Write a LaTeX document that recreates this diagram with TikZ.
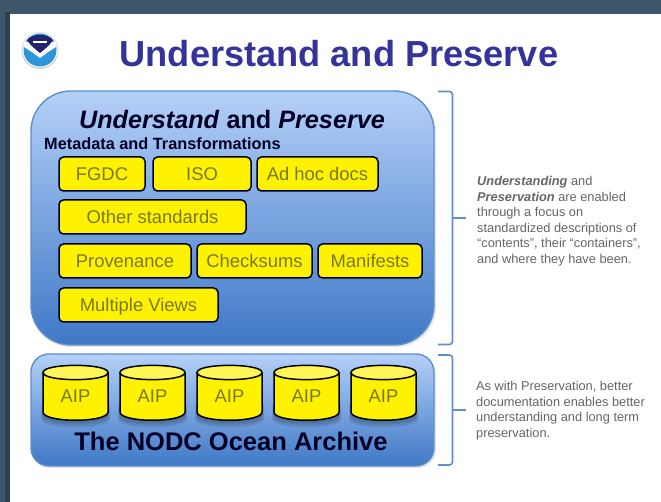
\documentclass[tikz,border=0pt]{standalone}
\usepackage{fontspec}
\setmainfont{Liberation Sans}
\usetikzlibrary{shapes.geometric,shadows,calc}
\definecolor{frameblue}{HTML}{3D5669}
\definecolor{titleblue}{HTML}{33339A}
\definecolor{edgeblue}{HTML}{5F90CC}
\definecolor{bodytxt}{HTML}{666666}
\definecolor{boxtxt}{HTML}{78781E}
\definecolor{panellight}{HTML}{B4D0F8}
\definecolor{panelmid}{HTML}{78A4E4}
\definecolor{paneldark}{HTML}{3F78C6}
\tikzset{
  x=1pt,y=-1pt,
  panel/.style={draw=edgeblue,line width=1.4pt,top color=panellight,middle color=panelmid,bottom color=paneldark,inner sep=0,outer sep=0},
  yellowbox/.style={draw=black!85!blue,line width=1.5pt,fill=yellow,rounded corners=4.5pt,text=boxtxt,font=\fontsize{18.4}{20}\selectfont,text height=13pt,text depth=0pt,minimum height=34pt,inner sep=0,outer sep=0,anchor=north west,drop shadow={shadow xshift=0pt,shadow yshift=-1.5pt,opacity=.3}},
  bracketline/.style={draw=edgeblue,line width=1.6pt,rounded corners=3pt},
  sidetext/.style={text=bodytxt,font=\fontsize{12.8}{15.6}\selectfont,align=left,anchor=north west,inner sep=0},
  cyl/.style={draw=black,line width=1.5pt,fill=yellow},
  cyllabel/.style={text=boxtxt,font=\fontsize{18.4}{20}\selectfont,inner sep=0},
}
\newcommand{\aipcyl}[2]{%
  \foreach \grow/\dn in {2/7,1.5/5.5,1/4,0.5/2.5}{%
    \fill[black,opacity=.07] (#2-\grow+1,405) -- (#2-\grow+1,413+\dn) .. controls (#2-\grow+1,423+\dn) and (#2+\grow+66,423+\dn) .. (#2+\grow+66,413+\dn) -- (#2+\grow+66,405) -- cycle;}
  \draw[cyl] (#2+1,372.5) -- (#2+1,412) .. controls (#2+1,423) and (#2+66,423) .. (#2+66,412) -- (#2+66,372.5);
  \draw[cyl] (#2+1,372.5) .. controls (#2+1,363) and (#2+66,363) .. (#2+66,372.5) .. controls (#2+66,382) and (#2+1,382) .. (#2+1,372.5) -- cycle;
  \fill[white,opacity=.35] (#2+2.5,372.5) .. controls (#2+2.5,364.5) and (#2+64.5,364.5) .. (#2+64.5,372.5) .. controls (#2+64.5,380.5) and (#2+2.5,380.5) .. (#2+2.5,372.5) -- cycle;
  \node[cyllabel] (#1) at (#2+33.5,396) {AIP};}
\begin{document}
\begin{tikzpicture}
\useasboundingbox (0,0) rectangle (661,502);
\fill[frameblue] (0,0) rectangle (661,502);
\fill[frameblue!75!black] (5,12) rectangle (10,502);
\fill[white] (9.5,14) rectangle (661,502);
% logo
\fill[black!18] (40,50.5) circle (18.5);
\fill[white] (40,50) circle (17.5);
\fill[cyan!70!blue!85!white] (40,50) circle (16.5);
\fill[white] (24,47) .. controls (32,52) and (36,55) .. (40,58) .. controls (44,55) and (48,52) .. (56,47) -- (56,42) -- (24,42) -- cycle;
\fill[titleblue!70!black] (27,40) .. controls (33,33) and (47,33) .. (53,40) .. controls (50,45) and (45,49) .. (40,53) .. controls (35,49) and (30,45) .. (27,40) -- cycle;
\fill[white] (33,41) rectangle (47,43);
% title
\node[text=titleblue,font=\fontsize{36.2}{40}\bfseries\selectfont,inner sep=0] (title) at (339,54) {Understand and Preserve};
% panels
\fill[black!10] (31,93) [rounded corners=40pt] rectangle (436,347);
\path[panel,rounded corners=40pt] (31,91) rectangle (434,345);
\fill[black!10] (32,357) [rounded corners=18pt] rectangle (436,468);
\path[panel,rounded corners=18pt] (31,354) rectangle (434,466);
% panel headings
\node[font=\fontsize{25.2}{28}\bfseries\selectfont,text=black!85!blue,inner sep=0] (head) at (232,120) {\textit{Understand} and \textit{Preserve}};
\node[font=\fontsize{16.3}{18}\bfseries\selectfont,text=black!85!blue,inner sep=0,anchor=west] (sub) at (44,144) {Metadata and Transformations};
% yellow boxes
\node[yellowbox,minimum width=86pt] (fgdc) at (59,157) {FGDC};
\node[yellowbox,minimum width=98pt] (iso) at (153,157) {ISO};
\node[yellowbox,minimum width=121pt] (adhoc) at (257,157) {Ad hoc docs};
\node[yellowbox,minimum width=187pt] (other) at (59,200) {Other standards};
\node[yellowbox,minimum width=132pt] (prov) at (59,244) {Provenance};
\node[yellowbox,minimum width=115pt] (check) at (197,244) {Checksums};
\node[yellowbox,minimum width=104pt] (mani) at (318,244) {Manifests};
\node[yellowbox,minimum width=159pt] (multi) at (59,288) {Multiple Views};
% cylinders
\aipcyl{a}{42}
\aipcyl{b}{119}
\aipcyl{c}{196}
\aipcyl{d}{273}
\aipcyl{e}{350}
\node[font=\fontsize{25.5}{28}\bfseries\selectfont,text=black!85!blue,inner sep=0] (arch) at (231,441) {The NODC Ocean Archive};
% brackets
\coordinate (b1a) at (438,91.5);
\coordinate (b1b) at (438,344.5);
\coordinate (b1c) at (466,218);
\coordinate (b2a) at (438,355);
\coordinate (b2b) at (438,465);
\coordinate (b2c) at (466,410);
\draw[bracketline] (b1a) -- (452.5,91.5) -- (452.5,344.5) -- (b1b);
\draw[edgeblue,line width=1.6pt] (452.5,218) -- (b1c);
\draw[bracketline] (b2a) -- (452.5,355) -- (452.5,465) -- (b2b);
\draw[edgeblue,line width=1.6pt] (452.5,410) -- (b2c);
% side text
\node[sidetext] (t1) at (477,176) {\textbf{\textit{Understanding}} and\\\textbf{\textit{Preservation}} are enabled\\through a focus on\\standardized descriptions of\\“contents”, their “containers”,\\and where they have been.};
\node[sidetext] (t2) at (476,381) {As with Preservation, better\\documentation enables better\\understanding and long term\\preservation.};
\end{tikzpicture}
\end{document}
